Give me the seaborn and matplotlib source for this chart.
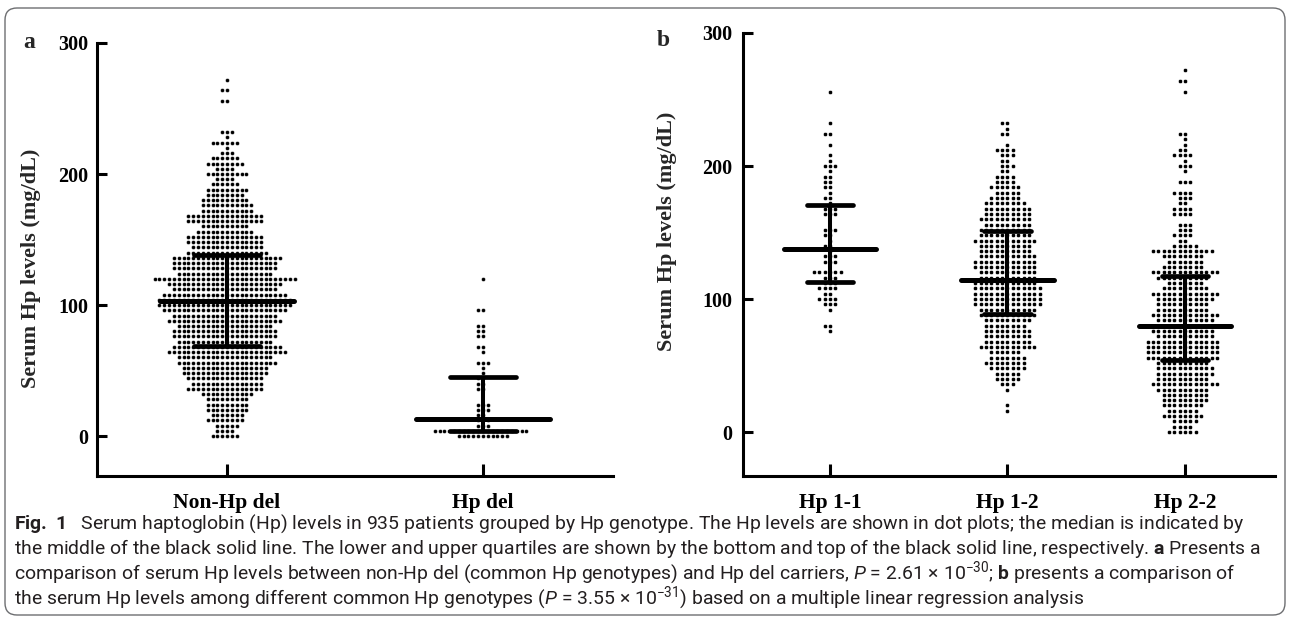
import numpy as np
import pandas as pd
import matplotlib
matplotlib.use('Agg')
import matplotlib.pyplot as plt
import seaborn as sns
from matplotlib.patches import FancyBboxPatch
from matplotlib.transforms import IdentityTransform
from matplotlib import font_manager

# niveis de Hp (mg/dL) de cada linha do dot plot e quantos pontos ha em cada linha
hp11_niveis = [256, 232, 224, 216, 208, 204, 200, 196, 192, 188, 184, 180, 176, 172, 168, 164,
               152, 148, 144, 140, 136, 132, 128, 120, 116, 112, 108, 104, 100, 96, 92, 80, 76]
hp11_qtd = [1, 1, 2, 1, 1, 1, 3, 1, 2, 2, 2, 1, 2, 1, 3, 3,
            3, 2, 1, 2, 1, 3, 3, 6, 3, 3, 4, 2, 4, 3, 1, 2, 1]

hp12_niveis = [232, 228, 224, 216, 212, 208, 204, 200, 196, 192, 188, 184, 180, 176, 172, 168, 164,
               160, 156, 152, 148, 144, 140, 136, 132, 128, 124, 120, 116, 112, 108, 104, 100, 96,
               92, 88, 84, 80, 76, 72, 68, 64, 60, 56, 52, 48, 44, 40, 36, 32, 20, 16]
hp12_qtd = [2, 1, 2, 1, 4, 3, 2, 3, 2, 4, 4, 6, 5, 6, 8, 9, 9,
            10, 9, 10, 10, 12, 10, 10, 11, 12, 12, 11, 11, 12, 13, 13, 13, 13,
            11, 11, 9, 8, 9, 9, 9, 11, 6, 7, 8, 7, 5, 5, 3, 1, 1, 1]

hp22_niveis = [272, 264, 256, 224, 220, 216, 212, 208, 204, 200, 196, 188, 180, 176, 172, 168, 164,
               156, 152, 148, 144, 140, 136, 132, 128, 124, 120, 116, 112, 108, 104, 100, 96, 92,
               88, 84, 80, 76, 72, 68, 64, 60, 56, 52, 48, 44, 40, 36, 32, 28, 24, 20, 16, 12, 8, 4, 0]
hp22_qtd = [1, 2, 1, 2, 1, 1, 2, 4, 1, 3, 1, 3, 4, 3, 2, 4, 4,
            3, 3, 4, 2, 5, 12, 8, 7, 8, 13, 10, 7, 9, 13, 11, 10, 10,
            13, 11, 12, 12, 11, 14, 14, 14, 14, 10, 11, 11, 10, 13, 10, 9, 9, 8, 6, 8, 5, 4, 6]

hpdel_niveis = [120, 96, 84, 80, 76, 68, 64, 56, 52, 48, 44, 40, 36, 24, 20, 16, 12, 8, 4, 0]
hpdel_qtd = [1, 2, 2, 2, 2, 2, 1, 3, 1, 1, 2, 2, 2, 3, 3, 2, 3, 3, 20, 11]

grupos_a = ['Non-Hp del', 'Hp del']
grupos_b = ['Hp 1-1', 'Hp 1-2', 'Hp 2-2']

# mediana e quartis
mediana_a = [103, 13]
q1_a = [69, 4]
q3_a = [138, 45]
mediana_b = [138, 114, 80]
q1_b = [113, 89, 54]
q3_b = [171, 151, 117]

legenda = [
    r"$\mathbf{Fig.\ 1}$   Serum haptoglobin (Hp) levels in 935 patients grouped by Hp genotype. The Hp levels are shown in dot plots; the median is indicated by",
    r"the middle of the black solid line. The lower and upper quartiles are shown by the bottom and top of the black solid line, respectively. $\mathbf{a}$ Presents a",
    r"comparison of serum Hp levels between non-Hp del (common Hp genotypes) and Hp del carriers, $P$ = 2.61 × 10$^{-30}$; $\mathbf{b}$ presents a comparison of",
    r"the serum Hp levels among different common Hp genotypes ($P$ = 3.55 × 10$^{-31}$) based on a multiple linear regression analysis",
]

hp11 = np.repeat(hp11_niveis, hp11_qtd)
hp12 = np.repeat(hp12_niveis, hp12_qtd)
hp22 = np.repeat(hp22_niveis, hp22_qtd)
hpdel = np.repeat(hpdel_niveis, hpdel_qtd)

base_b = pd.DataFrame({
    'grupo': ['Hp 1-1'] * len(hp11) + ['Hp 1-2'] * len(hp12) + ['Hp 2-2'] * len(hp22),
    'hp': np.concatenate([hp11, hp12, hp22]),
})
nao_del = np.concatenate([hp11, hp12, hp22])
base_a = pd.DataFrame({
    'grupo': ['Non-Hp del'] * len(nao_del) + ['Hp del'] * len(hpdel),
    'hp': np.concatenate([nao_del, hpdel]),
})

sns.set_style('ticks')
nomes = {f.name for f in font_manager.fontManager.ttflist}
fonte_legenda = 'Liberation Sans Narrow' if 'Liberation Sans Narrow' in nomes else 'Roboto'
plt.rcParams['font.family'] = ['Liberation Serif', 'DejaVu Serif']
plt.rcParams['mathtext.fontset'] = 'custom'
plt.rcParams['mathtext.rm'] = fonte_legenda
plt.rcParams['mathtext.it'] = fonte_legenda + ':italic'
plt.rcParams['mathtext.bf'] = fonte_legenda + ':bold'

W, H = 1290, 634
fig = plt.figure(figsize=(W / 100, H / 100), dpi=100)
fig.patch.set_facecolor('white')

eixo_base = 476
ax_a = fig.add_axes([97 / W, 1 - eixo_base / H, 516 / W, (eixo_base - 43) / H])
ax_b = fig.add_axes([743 / W, 1 - eixo_base / H, 532 / W, (eixo_base - 33) / H])

sns.swarmplot(data=base_a, x='grupo', y='hp', order=grupos_a, color='black',
              size=2.95, linewidth=0.36, edgecolor='white', ax=ax_a)
sns.swarmplot(data=base_b, x='grupo', y='hp', order=grupos_b, color='black',
              size=3.2, linewidth=0.465, edgecolor='white', ax=ax_b)


def barras(ax, mediana, q1, q3):
    for i, (m, a, b) in enumerate(zip(mediana, q1, q3)):
        ax.hlines(m, i - 0.26, i + 0.26, color='black', lw=3.6, capstyle='round', zorder=5)
        ax.hlines([a, b], i - 0.13, i + 0.13, color='black', lw=3.4, capstyle='round', zorder=5)
        ax.vlines(i, a, b, color='black', lw=2.9, zorder=5)


barras(ax_a, mediana_a, q1_a, q3_a)
barras(ax_b, mediana_b, q1_b, q3_b)

config = [
    (ax_a, grupos_a, (-0.508, 1.508), (-30.5, 300), 6.5, -0.108, 0.48),
    (ax_b, grupos_b, (-0.49, 2.507), (-33, 300), 8, -0.124, 0.553),
]
for ax, grupos, xl, yl, pad_y, lx, ly in config:
    ax.set_xlim(*xl)
    ax.set_ylim(*yl)
    ax.set_yticks([0, 100, 200, 300])
    ax.set_yticklabels(['0', '100', '200', '300'], fontweight='bold', fontsize=14.5)
    ax.set_xticks(range(len(grupos)))
    ax.set_xticklabels(grupos, fontweight='bold', fontsize=15.5)
    ax.tick_params(axis='y', direction='in', length=7.5, width=2.2, pad=pad_y, colors='black')
    ax.tick_params(axis='x', direction='in', length=9, width=2.2, pad=12, colors='black')
    for lado in ['top', 'right']:
        ax.spines[lado].set_visible(False)
    for lado in ['left', 'bottom']:
        ax.spines[lado].set_linewidth(2.2)
        ax.spines[lado].set_color('black')
    ax.set_xlabel('')
    ax.set_ylabel('Serum Hp levels (mg/dL)', fontweight='bold', fontsize=16)
    ax.yaxis.set_label_coords(lx, ly)
    ax.set_facecolor('none')

fig.text(29 / W, 1 - 43 / H, 'a', ha='center', va='center', fontsize=17, fontweight='bold')
fig.text(663 / W, 1 - 40 / H, 'b', ha='center', va='center', fontsize=17, fontweight='bold')

# legenda da figura, ajustada para a largura da primeira linha
linhas_y = [524, 549, 573, 598]
textos = []
for linha, y in zip(legenda, linhas_y):
    t = fig.text(14 / W, 1 - y / H, linha, ha='left', va='center', fontsize=10,
                 family=fonte_legenda, color='#231f20')
    textos.append(t)
render = fig.canvas.get_renderer()
largura = textos[0].get_window_extent(render).width
for t in textos:
    t.set_fontsize(10 * 1233 / largura)

moldura = FancyBboxPatch((5, H - 615), 1280, 607, boxstyle='round,pad=0,rounding_size=12',
                         transform=IdentityTransform(), facecolor='none',
                         edgecolor='#6d6e71', lw=1.0)
fig.patches.append(moldura)

fig.savefig('out.png', dpi=100)
